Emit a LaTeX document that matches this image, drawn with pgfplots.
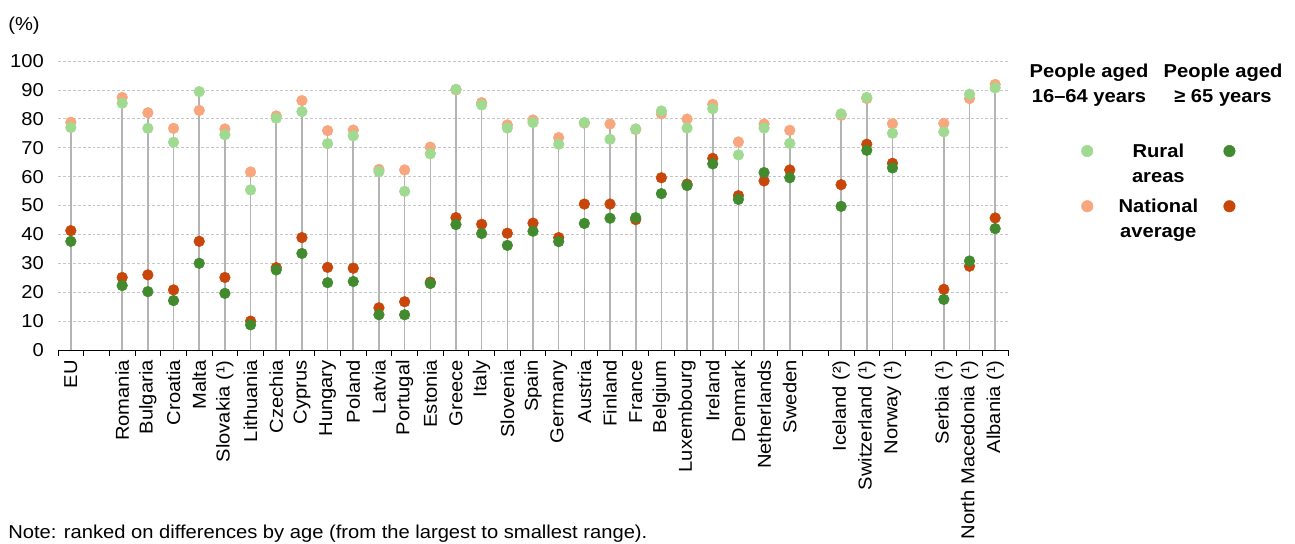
\documentclass[border=0pt]{standalone}
\usepackage{fontspec}
\setmainfont{Liberation Sans}[FakeStretch=1.08]
\usepackage{pgfplots}
\usepackage{pgfplotstable}
\pgfplotsset{compat=1.18}
\definecolor{lgreen}{HTML}{A0DA91}
\definecolor{dgreen}{HTML}{418A2E}
\definecolor{lorange}{HTML}{F8A67E}
\definecolor{dorange}{HTML}{C8460A}
\definecolor{stemgray}{HTML}{B4B4B4}
\newcommand{\fs}{\fontsize{14}{18.75}\selectfont}
\pgfplotsset{dotlegend/.style={legend image code/.code={\fill[##1] (0.3cm,9.6pt) circle (4.3pt);}}}

% x: position, lg: rural 16-64, lo: national 16-64, dg: rural 65+, do: national 65+, mx: highest value
\pgfplotstableread{
x lg lo dg do mx
0 77.0 78.8 37.6 41.3 78.8
2 85.4 87.4 22.3 25.1 87.4
3 76.7 82.1 20.2 26.0 82.1
4 71.9 76.7 17.1 20.8 76.7
5 89.4 82.9 30.0 37.6 89.4
6 74.5 76.5 19.6 25.1 76.5
7 55.4 61.6 8.7 10.0 61.6
8 80.2 81.0 27.7 28.5 81.0
9 82.5 86.3 33.4 38.9 86.3
10 71.4 75.9 23.3 28.6 75.9
11 74.1 76.1 23.7 28.3 76.1
12 61.7 62.5 12.2 14.6 62.5
13 54.9 62.3 12.2 16.7 62.3
14 67.9 70.2 23.0 23.5 70.2
15 90.2 90.0 43.4 45.8 90.2
16 84.8 85.6 40.3 43.5 85.6
17 76.8 77.9 36.2 40.4 77.9
18 78.7 79.6 41.1 43.9 79.6
19 71.2 73.5 37.5 38.9 73.5
20 78.7 78.5 43.8 50.5 78.7
21 72.9 78.2 45.6 50.5 78.2
22 76.5 76.3 45.8 45.1 76.5
23 82.7 81.7 54.1 59.6 82.7
24 76.8 79.9 56.9 57.4 79.9
25 83.5 85.0 64.4 66.3 85.0
26 67.5 72.0 52.1 53.4 72.0
27 76.8 78.2 61.4 58.5 78.2
28 71.5 76.0 59.6 62.3 76.0
30 81.7 81.2 49.7 57.2 81.7
31 87.4 87.0 69.1 71.2 87.4
32 75.0 78.3 63.0 64.6 78.3
34 75.5 78.4 17.5 21.0 78.4
35 88.5 87.0 30.8 29.0 88.5
36 90.7 91.9 42.0 45.7 91.9
}\data

\begin{document}
\begin{tikzpicture}
\path[use as bounding box] (0pt,0pt) rectangle (971.25pt,407.25pt);
\begin{axis}[
  at={(43.5pt,144.75pt)}, anchor=south west, scale only axis,
  width=712.5pt, height=216.75pt,
  xmin=-0.5, xmax=36.5, ymin=0, ymax=100,
  axis x line=bottom, axis y line=left, axis line style={-},
  y axis line style={draw=none},
  xtick={0,...,36},
  xticklabels={EU,{},Romania,Bulgaria,Croatia,Malta,Slovakia (¹),Lithuania,Czechia,Cyprus,Hungary,Poland,Latvia,Portugal,Estonia,Greece,Italy,Slovenia,Spain,Germany,Austria,Finland,France,Belgium,Luxembourg,Ireland,Denmark,Netherlands,Sweden,{},Iceland (²),Switzerland (¹),Norway (¹),{},Serbia (¹),North Macedonia (¹),Albania (¹)},
  major x tick style={draw=none},
  minor xtick={-0.5,0.5,...,36.5},
  minor x tick style={black, line width=0.6pt},
  tick align=outside, major tick length=0pt, minor tick length=4.5pt,
  x tick label style={rotate=90, anchor=east, font=\fs, inner sep=0pt, xshift=-7.5pt},
  ytick={0,10,...,100},
  ymajorgrids, major grid style={gray!45, dash pattern=on 2.2pt off 1.5pt, line width=0.5pt},
  y tick style={draw=none},
  y tick label style={font=\fs, inner sep=0pt, xshift=-10.5pt},
  /pgf/number format/assume math mode=true,
  clip=false,
  legend columns=2,
  legend cell align=center,
  legend style={draw=none, fill=none, font=\fs\bfseries, cells={align=center},
    at={(1.0726,0.7336)}, anchor=north west, column sep=17pt, row sep=7pt},
]
\addplot[ycomb, stemgray, line width=1.2pt, no marks, forget plot] table[x=x,y=mx]{\data};
\addplot[only marks, mark=*, mark size=4pt, lorange, forget plot] table[x=x,y=lo]{\data};
\addplot[only marks, mark=*, mark size=4pt, lgreen, forget plot] table[x=x,y=lg]{\data};
\addplot[only marks, mark=*, mark size=4pt, dorange, forget plot] table[x=x,y=do]{\data};
\addplot[only marks, mark=*, mark size=4pt, dgreen, forget plot] table[x=x,y=dg]{\data};
\addlegendimage{dotlegend, lgreen}
\addlegendentry{Rural\\areas}
\addlegendimage{dotlegend, dgreen}
\addlegendentry{}
\addlegendimage{dotlegend, lorange}
\addlegendentry{National\\average}
\addlegendimage{dotlegend, dorange}
\addlegendentry{}
\end{axis}
\node[font=\fs] at (18pt,387.75pt) {(\%)};
\node[font=\fs\bfseries, align=center] at (816.75pt,343.5pt) {People aged\\16–64 years};
\node[font=\fs\bfseries, align=center] at (917.25pt,343.5pt) {People aged\\≥ 65 years};
\node[font=\fs, anchor=west, inner sep=0pt] at (6pt,7pt) {Note: ranked on differences by age (from the largest to smallest range).};
\end{tikzpicture}
\end{document}
